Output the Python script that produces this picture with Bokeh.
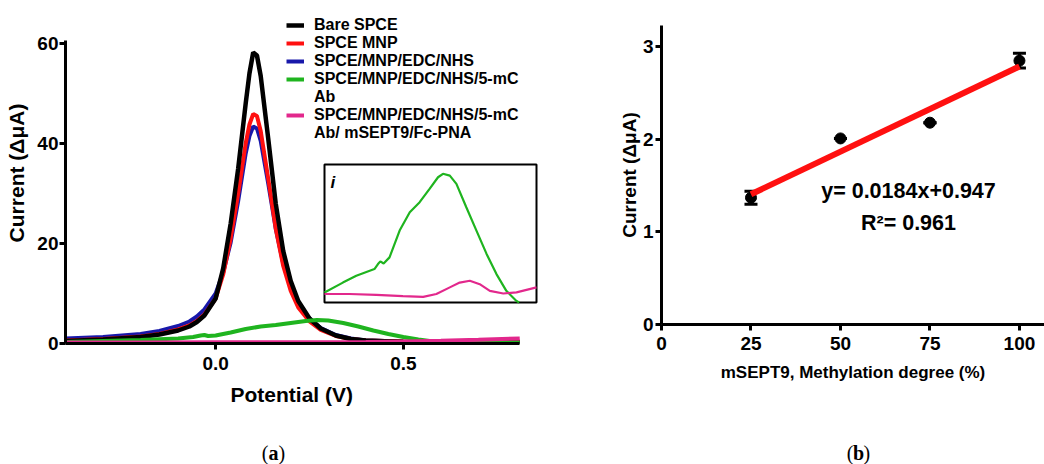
from bokeh.plotting import figure
from bokeh.layouts import row, column
from bokeh.models import (Range1d, FixedTicker, Legend, LegendItem, Label, Title,
                          Whisker, ColumnDataSource, TeeHead, PrintfTickFormatter)
from bokeh.embed import file_html
from bokeh.resources import INLINE

FONT = "Liberation Sans"
SERIF = "Liberation Serif"

# ---------------- Panel (a) data: DPV curves ----------------
potential = [-0.40, -0.30, -0.20, -0.15, -0.10, -0.07, -0.05, -0.03, 0.00, 0.02, 0.04,
             0.06, 0.08, 0.09, 0.10, 0.11, 0.12, 0.14, 0.16, 0.18, 0.20, 0.22, 0.25,
             0.28, 0.32, 0.36, 0.40, 0.50, 0.60, 0.70, 0.81]
bare_spce = [0.5, 0.8, 1.3, 1.8, 2.6, 3.4, 4.3, 5.6, 9.0, 15.0, 24.0,
             35.0, 48.0, 54.0, 58.2, 57.6, 53.5, 41.0, 28.0, 18.5, 12.5, 8.5, 5.0,
             3.0, 1.6, 0.9, 0.6, 0.3, 0.2, 0.2, 0.2]
spce_mnp = [0.6, 0.9, 1.4, 1.9, 2.8, 3.6, 4.5, 5.8, 9.0, 13.8, 21.0,
            30.0, 40.0, 43.8, 45.9, 45.5, 42.5, 33.0, 23.0, 15.5, 10.5, 7.2, 4.4,
            2.7, 1.5, 0.9, 0.6, 0.4, 0.3, 0.3, 0.4]
spce_edc = [1.0, 1.3, 1.9, 2.5, 3.5, 4.4, 5.4, 6.8, 10.0, 14.2, 20.2,
            28.5, 38.0, 41.5, 43.4, 43.0, 40.5, 32.0, 23.0, 16.0, 11.2, 7.8, 5.0,
            3.1, 1.7, 1.0, 0.6, 0.4, 0.3, 0.3, 0.3]
ab_potential = [-0.40, -0.30, -0.20, -0.10, -0.06, -0.04, -0.03, -0.02, 0.00, 0.04, 0.08,
                0.12, 0.16, 0.20, 0.24, 0.27, 0.30, 0.34, 0.38, 0.42, 0.46, 0.50, 0.54,
                0.58, 0.62, 0.70, 0.81]
ab_current = [0.3, 0.5, 0.7, 1.0, 1.3, 1.6, 1.7, 1.5, 1.6, 2.2, 2.9,
              3.4, 3.7, 4.1, 4.5, 4.7, 4.6, 4.1, 3.4, 2.6, 1.9, 1.3, 0.8,
              0.4, 0.2, 0.2, 0.2]
pna_potential = [-0.40, -0.20, 0.00, 0.20, 0.40, 0.50, 0.60, 0.70, 0.81]
pna_current = [0.2, 0.2, 0.25, 0.25, 0.3, 0.4, 0.55, 0.75, 1.0]

# inset (i): zoom of the two low curves
inset_ab_potential = [-0.300, -0.222, -0.165, -0.088, -0.073, -0.063, -0.049, -0.024, 0.019,
                      0.062, 0.104, 0.146, 0.182, 0.203, 0.232, 0.260, 0.302, 0.345,
                      0.388, 0.430, 0.472, 0.515, 0.526]
inset_ab_current = [0.38, 0.75, 1.01, 1.26, 1.45, 1.55, 1.47, 1.70, 2.71,
                    3.40, 3.78, 4.28, 4.72, 4.85, 4.78, 4.47, 3.59, 2.71,
                    1.83, 1.07, 0.44, 0.06, 0.0]
inset_pna_potential = [-0.300, -0.194, -0.080, 0.033, 0.119, 0.175, 0.232, 0.274, 0.317,
                       0.359, 0.402, 0.459, 0.515, 0.600]
inset_pna_current = [0.32, 0.32, 0.29, 0.24, 0.21, 0.32, 0.57, 0.75, 0.82,
                     0.69, 0.44, 0.34, 0.38, 0.57]
inset_x_domain = (-0.3, 0.6)
inset_y_domain = (0.0, 5.2)

a_xticks = [0.0, 0.5]
a_yticks = [0, 20, 40, 60]
a_xbounds = (-0.4, 0.81)
a_ybounds = (0, 60.6)

legend_labels = ["Bare SPCE", "SPCE MNP", "SPCE/MNP/EDC/NHS",
                 "SPCE/MNP/EDC/NHS/5-mC", "Ab",
                 "SPCE/MNP/EDC/NHS/5-mC", "Ab/ mSEPT9/Fc-PNA"]

# ---------------- Panel (b) data: calibration ----------------
methylation = [25, 50, 75, 100]
current_b = [1.37, 2.01, 2.18, 2.85]
error_b = [0.07, 0.0, 0.0, 0.08]
fit_slope = 0.0184
fit_intercept = 0.947
fit_x = [25, 100]
b_xticks = [0, 25, 50, 75, 100]
b_yticks = [0, 1, 2, 3]

captions = ["a", "b"]

BLACK = "#000000"
RED = "#ff1010"
BLUE = "#1818aa"
GREEN = "#1fb41f"
PINK = "#e2288c"

PLOT_H = 432      # height of the two panels; captions strip below
CAP_H = 32


def style_axes(p, size):
    for ax in (p.xaxis[0], p.yaxis[0]):
        ax.axis_line_width = 3
        ax.major_tick_line_width = 3
        ax.major_tick_out = 6
        ax.major_tick_in = 0
        ax.minor_tick_line_color = None
        ax.major_label_text_font = FONT
        ax.major_label_text_font_style = "bold"
        ax.major_label_text_font_size = size
        ax.major_label_text_color = "black"
        ax.axis_label_text_font = FONT
        ax.axis_label_text_font_style = "bold"
        ax.axis_label_text_color = "black"
    p.xgrid.visible = False
    p.ygrid.visible = False
    p.outline_line_color = None
    p.frame_align = False


# ---------------- Figure (a) ----------------
# page coords of frame: left 65, right 560, top 2, bottom 343
FL, FR, FT, FB = 65, 560, 2, 343
pa = figure(width=560, height=PLOT_H, output_backend="svg", toolbar_location=None,
            x_range=Range1d(-0.4, 0.9186), y_range=Range1d(0, (FB - FT) / 5.0),
            min_border_left=FL, min_border_right=0, min_border_top=FT,
            min_border_bottom=PLOT_H - FB)
style_axes(pa, "19px")
pa.xaxis.ticker = FixedTicker(ticks=a_xticks)
pa.xaxis.formatter = PrintfTickFormatter(format="%.1f")
pa.yaxis.ticker = FixedTicker(ticks=a_yticks)
pa.xaxis.bounds = a_xbounds
pa.yaxis.bounds = a_ybounds
pa.yaxis.axis_label = "Current (\u0394\u03bcA)"
pa.yaxis.axis_label_text_font_size = "21px"
pa.xaxis.major_label_standoff = 7
pa.yaxis.major_label_standoff = 1
pa.yaxis.axis_label_standoff = 6
# x title centred under the drawn part of the axis
pa.add_layout(Title(text="Potential (V)", align="left", offset=165, standoff=16,
                    text_font=FONT, text_font_style="bold", text_font_size="21px",
                    text_color="black"), "below")

r_blue = pa.line(potential, spce_edc, line_color=BLUE, line_width=4)
r_red = pa.line(potential, spce_mnp, line_color=RED, line_width=4)
r_black = pa.line(potential, bare_spce, line_color=BLACK, line_width=4.5)
r_green = pa.line(ab_potential, ab_current, line_color=GREEN, line_width=4)
r_pink = pa.line(pna_potential, pna_current, line_color=PINK, line_width=4)
r_blank1 = pa.line([], [], line_alpha=0)
r_blank2 = pa.line([], [], line_alpha=0)

items = [LegendItem(label=legend_labels[0], renderers=[r_black]),
         LegendItem(label=legend_labels[1], renderers=[r_red]),
         LegendItem(label=legend_labels[2], renderers=[r_blue]),
         LegendItem(label=legend_labels[3], renderers=[r_green]),
         LegendItem(label=legend_labels[4], renderers=[r_blank1]),
         LegendItem(label=legend_labels[5], renderers=[r_pink]),
         LegendItem(label=legend_labels[6], renderers=[r_blank2])]
legend = Legend(items=items, location=(286 - FL, FB - 142), padding=0, margin=0,
                spacing=0, glyph_width=18, glyph_height=18, label_height=18,
                label_standoff=10, border_line_alpha=0, background_fill_alpha=0,
                label_text_font=FONT, label_text_font_style="bold",
                label_text_font_size="16px", label_text_color="black")
pa.add_layout(legend, "center")

# inset mapped into box (page coords L,R,T,B)
L, R, T, B = 324, 536, 164, 302
x0, x1 = inset_x_domain
y0, y1 = inset_y_domain
sx = (x1 - x0) / (R - L)
sy = (y1 - y0) / (B - T)
pa.extra_x_ranges = {"ix": Range1d(x0 - (L - FL) * sx, x1 + (FR - R) * sx)}
pa.extra_y_ranges = {"iy": Range1d(y0 - (FB - B) * sy, y1 + (T - FT) * sy)}
pa.quad(left=[x0], right=[x1], bottom=[y0], top=[y1], x_range_name="ix", y_range_name="iy",
        fill_color="white", line_color="black", line_width=2)
pa.line(inset_ab_potential, inset_ab_current, x_range_name="ix", y_range_name="iy",
        line_color=GREEN, line_width=2.2)
pa.line(inset_pna_potential, inset_pna_current, x_range_name="ix", y_range_name="iy",
        line_color=PINK, line_width=2.2)
pa.add_layout(Label(x=x0 + 6 * sx, y=y1 - 8 * sy, x_range_name="ix", y_range_name="iy",
                    text="i", text_font=FONT, text_font_style="bold italic",
                    text_color="black", text_font_size="17px", text_baseline="top"))

# ---------------- Figure (b) ----------------
BL, BT, BB = 101, 25, 324
pb = figure(width=484, height=PLOT_H, output_backend="svg", toolbar_location=None,
            x_range=Range1d(0, 107.0), y_range=Range1d(0, 3.23),
            min_border_left=BL, min_border_right=0, min_border_top=BT,
            min_border_bottom=PLOT_H - BB)
style_axes(pb, "19px")
pb.xaxis.ticker = FixedTicker(ticks=b_xticks)
pb.yaxis.ticker = FixedTicker(ticks=b_yticks)
pb.xaxis.axis_label = "mSEPT9, Methylation degree (%)"
pb.yaxis.axis_label = "Current (\u0394\u03bcA)"
pb.xaxis.axis_label_text_font_size = "17px"
pb.yaxis.axis_label_text_font_size = "19px"
pb.xaxis.major_label_standoff = 6
pb.yaxis.major_label_standoff = 2
pb.xaxis.axis_label_standoff = 10
pb.yaxis.axis_label_standoff = 0

fit_y = [fit_slope * v + fit_intercept for v in fit_x]
src = ColumnDataSource(dict(x=methylation, y=current_b,
                            upper=[c + e for c, e in zip(current_b, error_b)],
                            lower=[c - e for c, e in zip(current_b, error_b)]))
pb.add_layout(Whisker(source=src, base="x", upper="upper", lower="lower",
                      line_width=3, line_color="black",
                      upper_head=TeeHead(size=13, line_width=3),
                      lower_head=TeeHead(size=13, line_width=3)))
pb.scatter("x", "y", source=src, size=11, color="black")
pb.line(fit_x, fit_y, line_color=RED, line_width=6)

pb.add_layout(Label(x=69.0, y=1.446, text="y= 0.0184x+0.947", text_font=FONT,
                    text_font_style="bold", text_font_size="21.5px", text_color="black",
                    text_align="center", text_baseline="middle"))
pb.add_layout(Label(x=69.0, y=1.10, text="R\u00b2= 0.961", text_font=FONT,
                    text_font_style="bold", text_font_size="21.5px", text_color="black",
                    text_align="center", text_baseline="middle"))

# ---------------- caption strip: (a) (b) ----------------
pc = figure(width=1044, height=CAP_H, output_backend="svg", toolbar_location=None,
            x_range=Range1d(0, 1044), y_range=Range1d(0, CAP_H),
            x_axis_type=None, y_axis_type=None, min_border=0)
pc.xgrid.visible = False
pc.ygrid.visible = False
pc.outline_line_color = None
for letter, cx in zip(captions, [273, 858]):
    cy = CAP_H - 20
    pc.add_layout(Label(x=cx, y=cy, text="(", text_font=SERIF, text_font_size="20px",
                        text_color="black", text_align="right", text_baseline="middle",
                        x_offset=-5))
    pc.add_layout(Label(x=cx, y=cy, text=letter, text_font=SERIF, text_font_style="bold",
                        text_font_size="20px", text_color="black", text_align="center",
                        text_baseline="middle"))
    pc.add_layout(Label(x=cx, y=cy, text=")", text_font=SERIF, text_font_size="20px",
                        text_color="black", text_align="left", text_baseline="middle",
                        x_offset=5))

layout = column(row(pa, pb), pc)
open("out.html", "w").write(file_html(layout, INLINE))
